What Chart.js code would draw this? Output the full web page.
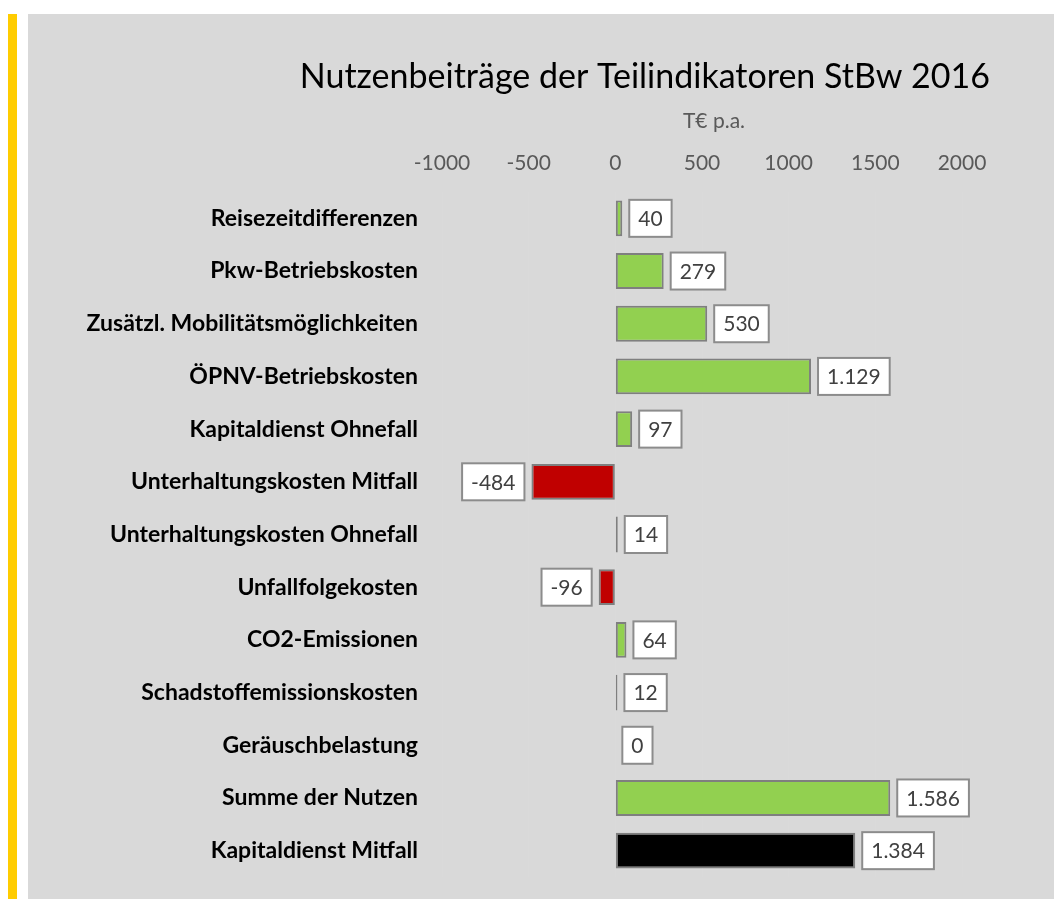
<!DOCTYPE html>
<html>
<head>
<meta charset="utf-8">
<script src="https://cdn.jsdelivr.net/npm/chart.js@4"></script>
<style>
  body { margin: 0; background: #fff; width: 1054px; height: 899px; position: relative; overflow: hidden; }
  #stripe { position: absolute; left: 8px; top: 14px; width: 9px; height: 885px; background: #ffcc00; }
  #panel { position: absolute; left: 28px; top: 14px; width: 1026px; height: 885px; background: #d9d9d9; }
</style>
</head>
<body>
<div id="stripe"></div>
<div id="panel"><canvas id="nutzenChart" width="1026" height="885"></canvas></div>
<script>
const categories = [
  "Reisezeitdifferenzen",
  "Pkw-Betriebskosten",
  "Zusätzl. Mobilitätsmöglichkeiten",
  "ÖPNV-Betriebskosten",
  "Kapitaldienst Ohnefall",
  "Unterhaltungskosten Mitfall",
  "Unterhaltungskosten Ohnefall",
  "Unfallfolgekosten",
  "CO2-Emissionen",
  "Schadstoffemissionskosten",
  "Geräuschbelastung",
  "Summe der Nutzen",
  "Kapitaldienst Mitfall"
];
const values = [40, 279, 530, 1129, 97, -484, 14, -96, 64, 12, 0, 1586, 1384];
const xTicks = [-1000, -500, 0, 500, 1000, 1500, 2000];
const chartTitle = "Nutzenbeiträge der Teilindikatoren StBw 2016";
const unitLabel = "T€ p.a.";

const FONT = "Lato, 'Open Sans', sans-serif";

// German thousands separator
function fmt(v) {
  return (v < 0 ? "-" : "") + String(Math.abs(v)).replace(/\B(?=(\d{3})+(?!\d))/g, ".");
}

const barColors = values.map((v, i) =>
  i === values.length - 1 ? "#000000" : (v < 0 ? "#c00000" : "#92d050"));

// title, unit and the white value boxes
const extras = {
  id: "extras",
  afterDraw(chart) {
    const { ctx, chartArea } = chart;
    ctx.save();
    ctx.fillStyle = "#000";
    ctx.font = "34px " + FONT;
    ctx.textAlign = "right";
    ctx.textBaseline = "middle";
    ctx.fillText(chartTitle, chartArea.right + 28, 63);
    ctx.fillStyle = "#595959";
    ctx.font = "21px " + FONT;
    ctx.textAlign = "center";
    ctx.fillText(unitLabel, 686, 107);
    ctx.restore();
  },
  afterDatasetsDraw(chart) {
    const { ctx } = chart;
    const meta = chart.getDatasetMeta(0);
    ctx.save();
    ctx.font = "21px " + FONT;
    ctx.textBaseline = "middle";
    ctx.textAlign = "center";
    meta.data.forEach((bar, i) => {
      const v = values[i];
      const txt = fmt(v);
      const w = ctx.measureText(txt).width + 18;
      const h = 37;
      const gap = 7;
      const x = v < 0 ? bar.x - gap - w : bar.x + gap;
      const y = bar.y - h / 2;
      ctx.fillStyle = "#fff";
      ctx.fillRect(x, y, w, h);
      ctx.strokeStyle = "#8c8c8c";
      ctx.lineWidth = 2;
      ctx.strokeRect(x, y, w, h);
      ctx.fillStyle = "#404040";
      ctx.fillText(txt, x + w / 2, bar.y + 1);
    });
    ctx.restore();
  }
};

new Chart(document.getElementById("nutzenChart"), {
  type: "bar",
  data: {
    labels: categories,
    datasets: [{
      data: values,
      backgroundColor: barColors,
      borderColor: "#7f7f7f",
      borderWidth: 2,
      borderSkipped: false,
      barPercentage: 0.68,
      categoryPercentage: 1
    }]
  },
  options: {
    indexAxis: "y",
    responsive: false,
    animation: false,
    layout: { padding: { left: 0, right: 92, top: 0, bottom: 22 } },
    plugins: {
      legend: { display: false },
      tooltip: { enabled: false }
    },
    scales: {
      x: {
        position: "top",
        min: -1000,
        max: 2000,
        afterBuildTicks: s => { s.ticks = xTicks.map(v => ({ value: v })); },
        afterFit: s => { s.height = 178; s.paddingLeft = 0; s.paddingRight = 0; },
        border: { display: false },
        grid: { color: "rgba(255,255,255,0.05)", drawTicks: false },
        ticks: {
          padding: 16,
          color: "#595959",
          font: { family: FONT, size: 21 },
          callback: v => String(v)
        }
      },
      y: {
        afterFit: s => { s.width = 414; s.paddingTop = 0; s.paddingBottom = 0; },
        border: { display: false },
        grid: { display: false, drawTicks: false },
        ticks: {
          padding: 24,
          color: "#000",
          font: { family: FONT, size: 23, weight: "bold" }
        }
      }
    }
  },
  plugins: [extras]
});
</script>
</body>
</html>
